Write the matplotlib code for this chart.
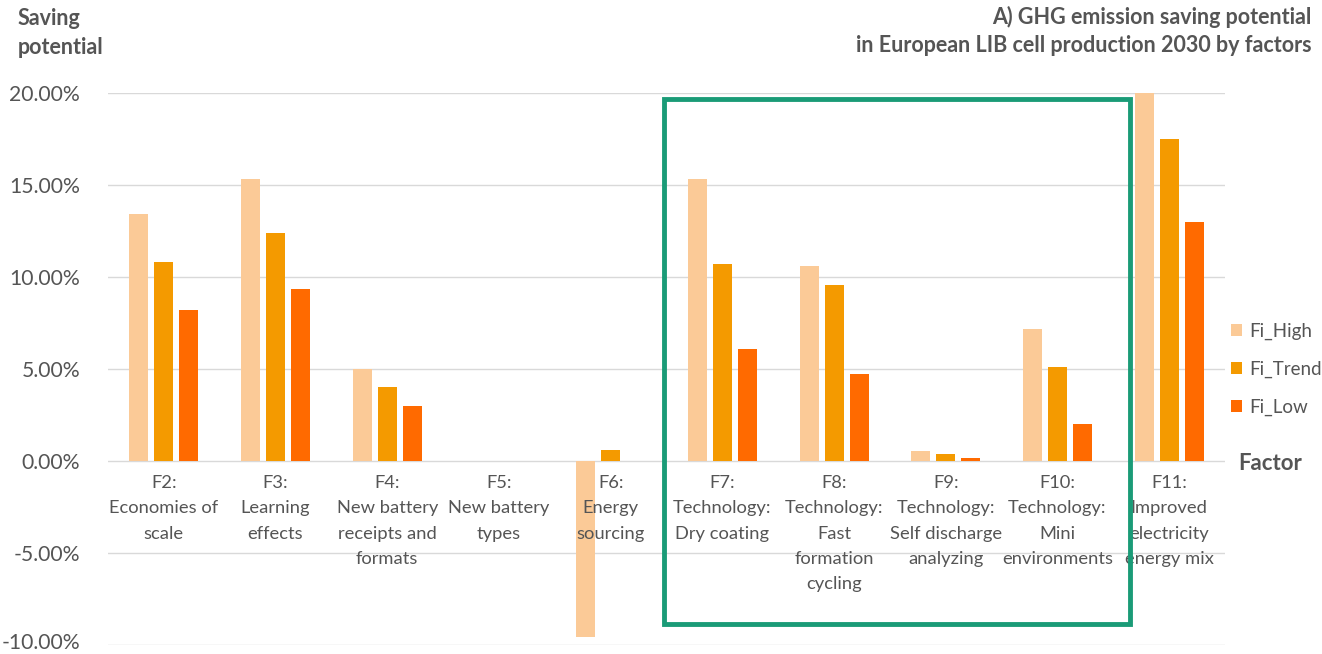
import numpy as np
import matplotlib
matplotlib.use("Agg")
import matplotlib.pyplot as plt
import matplotlib.transforms as mtransforms
from matplotlib.patches import Rectangle, Patch

# Saving potential per factor (percent) for the three scenarios
factors = [
    "F2:\nEconomies of\nscale",
    "F3:\nLearning\neffects",
    "F4:\nNew battery\nreceipts and\nformats",
    "F5:\nNew battery\ntypes",
    "F6:\nEnergy\nsourcing",
    "F7:\nTechnology:\nDry coating",
    "F8:\nTechnology:\nFast\nformation\ncycling",
    "F9:\nTechnology:\nSelf discharge\nanalyzing",
    "F10:\nTechnology:\nMini\nenvironments",
    "F11:\nImproved\nelectricity\nenergy mix",
]
fi_high = [13.4, 15.3, 5.0, 0.0, -9.55, 15.3, 10.6, 0.55, 7.15, 20.0]
fi_trend = [10.8, 12.4, 4.0, 0.0, 0.58, 10.7, 9.55, 0.4, 5.1, 17.5]
fi_low = [8.2, 9.35, 3.0, 0.0, 0.0, 6.1, 4.75, 0.15, 2.0, 13.0]
series_names = ["Fi_High", "Fi_Trend", "Fi_Low"]
y_ticks = [-10, -5, 0, 5, 10, 15, 20]

colors = ["#FBCA97", "#F49A00", "#FF6A00"]
text_grey = "#555555"
grid_grey = "#D9D9D9"
box_green = "#1A9B77"

plt.rcParams["font.family"] = ["Lato", "DejaVu Sans"]

fig = plt.figure(figsize=(13.22, 6.54), dpi=100)
ax = fig.add_axes([108 / 1322, 1 - 645 / 654, (1225 - 108) / 1322, (645 - 93) / 654])

x = np.arange(len(factors))
step, width = 0.224, 0.17
for k, vals in enumerate([fi_high, fi_trend, fi_low]):
    ax.bar(x + (k - 1) * step, vals, width=width, color=colors[k], zorder=2,
           label=series_names[k])

ax.set_xlim(-0.5, len(factors) - 0.5)
ax.set_ylim(-10, 20)
ax.set_yticks(y_ticks)
ax.set_yticklabels([f"{v:.2f}%" for v in y_ticks], fontsize=15.2, color=text_grey)
ax.tick_params(axis="y", length=0, pad=20)
ax.set_xticks([])
ax.grid(True, axis="y", color=grid_grey, linewidth=1.0, zorder=0)
for s in ax.spines.values():
    s.set_visible(False)

# lift the bottom tick label a little so it stays inside the figure
bottom_lab = ax.get_yticklabels()[0]
bottom_lab.set_transform(bottom_lab.get_transform() +
                         mtransforms.ScaledTranslation(0, 4 / 100, fig.dpi_scale_trans))

# category labels sit just under the zero line, over the bars
for i, lab in enumerate(factors):
    ax.text(i, -0.75, lab, ha="center", va="top", fontsize=13.2,
            color=text_grey, linespacing=1.72, zorder=3)

# axis captions and title
fig.text(18 / 1322, 1 - 8 / 654, "Saving\npotential", ha="left", va="top",
         fontsize=15.5, fontweight="bold", color=text_grey, linespacing=1.45)
fig.text(1312 / 1322, 1 - 6 / 654,
         "A) GHG emission saving potential\nin European LIB cell production 2030 by factors",
         ha="right", va="top", fontsize=15.5, fontweight="bold", color=text_grey,
         linespacing=1.38)
fig.text(1238 / 1322, 1 - 463 / 654, "Factor", ha="left", va="center",
         fontsize=16, fontweight="bold", color=text_grey)

handles = [Patch(facecolor=c, edgecolor="none") for c in colors]
fig.legend(handles, series_names, loc="center left",
           bbox_to_anchor=(1231 / 1322, 1 - 369 / 654), frameon=False,
           borderpad=0, borderaxespad=0,
           fontsize=13.5, labelcolor=text_grey, handlelength=0.6, handleheight=0.6,
           handletextpad=0.35, labelspacing=1.1)

# highlight frame around the technology factors
fig.add_artist(Rectangle((664 / 1322, 1 - 624 / 654), (1130 - 664) / 1322,
                         (624 - 99) / 654, transform=fig.transFigure,
                         fill=False, edgecolor=box_green, linewidth=3.5, zorder=5))

fig.savefig("out.png", dpi=100)
